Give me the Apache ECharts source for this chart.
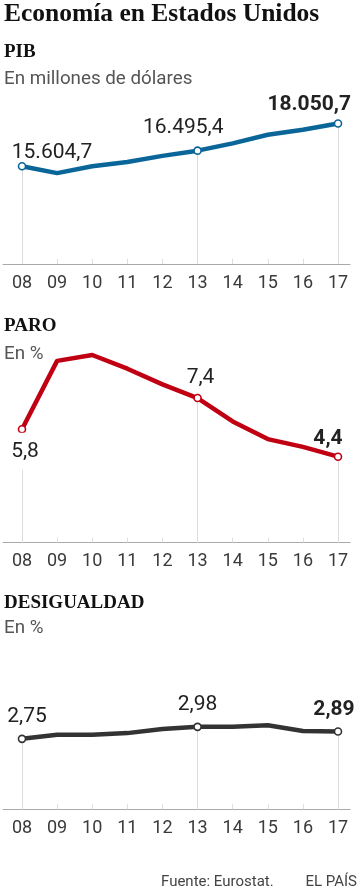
<!DOCTYPE html>
<html>
<head>
<meta charset="utf-8">
<script src="https://cdn.jsdelivr.net/npm/echarts@6/dist/echarts.min.js"></script>
<style>
html,body{margin:0;padding:0;background:#fff;}
#c{width:360px;height:893px;}
</style>
</head>
<body>
<div id="c"></div>
<script>
// ---- data ----
const years = ['08','09','10','11','12','13','14','15','16','17'];
const pib = [15604.7, 15208.8, 15598.8, 15840.7, 16197.0, 16495.4, 16912.0, 17403.8, 17688.9, 18050.7];
const paro = [5.8, 9.3, 9.6, 8.9, 8.1, 7.4, 6.2, 5.3, 4.9, 4.4];
const desig = [2.75, 2.83, 2.83, 2.86, 2.94, 2.98, 2.98, 3.01, 2.90, 2.89];
const labeledIdx = [0, 5, 9];

// ---- styling / layout ----
const panels = [
  {name:'PIB', sub:'En millones de dólares', data:pib, dec:1, color:'#0a6699', min:10000, max:20000,
   top:89.5, height:174.5, titleTop:43, subTop:69.5,
   offsets:{0:[30,-13],5:[-14.3,-23],9:[-28.8,-19]}, pad:{}},
  {name:'PARO', sub:'En %', data:paro, dec:1, color:'#c00012', min:0, max:10,
   top:347.2, height:195.5, titleTop:317, subTop:345,
   offsets:{0:[3,22],5:[3,-20],9:[-10,-18]}, pad:{0:[8,3,8,3]}},
  {name:'DESIGUALDAD', sub:'En %', data:desig, dec:2, color:'#333333', min:1.4, max:3.6,
   top:694.5, height:114.8, titleTop:594, subTop:619,
   offsets:{0:[5,-22.5],5:[0,-22],9:[-4,-21.5]}, pad:{}}
];

function fmt(v, dec){
  const s = v.toFixed(dec);
  let [ip, dp] = s.split('.');
  ip = ip.replace(/\B(?=(\d{3})+(?!\d))/g, '.');
  return dp ? ip + ',' + dp : ip;
}

const grid = [], xAxis = [], yAxis = [], series = [], title = [];
title.push({text:'Economía en Estados Unidos', left:4, top:1, padding:0,
  textStyle:{fontFamily:'Liberation Serif', fontWeight:'bold', fontSize:25.5, color:'#111'}});

panels.forEach((p, k) => {
  const g = grid.length;
  grid.push({left:22, right:22, top:p.top, height:p.height});
  grid.push({left:3, right:10, top:p.top, height:p.height});
  xAxis.push({type:'category', gridIndex:g, data:years, boundaryGap:false,
    axisLine:{show:false},
    axisTick:{show:true, inside:true, length:5, alignWithLabel:true, lineStyle:{color:'#dddddd', width:1}},
    axisLabel:{fontFamily:'Roboto', fontSize:18, color:'#3a3a3a', margin:10, interval:0},
    splitLine:{show:false}});
  xAxis.push({type:'value', gridIndex:g+1, min:0, max:1,
    axisLine:{show:true, lineStyle:{color:'#aaaaaa', width:1.2}},
    axisTick:{show:false}, axisLabel:{show:false}, splitLine:{show:false}});
  yAxis.push({type:'value', gridIndex:g, min:p.min, max:p.max, show:false, splitLine:{show:false}});
  yAxis.push({type:'value', gridIndex:g+1, min:0, max:1, show:false, splitLine:{show:false}});

  title.push({text:p.name, left:4, top:p.titleTop, padding:0,
    textStyle:{fontFamily:'Liberation Serif', fontWeight:'bold', fontSize:19, color:'#111'}});
  title.push({text:p.sub, left:4, top:p.subTop, padding:0,
    textStyle:{fontFamily:'Roboto', fontWeight:'normal', fontSize:18.8, color:'#555'}});

  const data = p.data.map((v, i) => {
    if (labeledIdx.indexOf(i) >= 0) {
      const last = i === p.data.length - 1;
      const lab = {show:true, position:'inside', offset:p.offsets[i],
        formatter: fmt(v, p.dec), fontFamily:'Roboto', fontSize:21,
        fontWeight: last ? 'bold' : 'normal', color:'#222'};
      if (p.pad[i]) { lab.backgroundColor = '#fff'; lab.padding = p.pad[i]; }
      return {value:v, symbol:'circle', symbolSize:7,
        itemStyle:{color:'#fff', borderColor:p.color, borderWidth:1.6}, label:lab};
    }
    return {value:v, symbol:'none'};
  });

  series.push({type:'line', xAxisIndex:g, yAxisIndex:g, data:data, z:3,
    showAllSymbol:true,
    lineStyle:{color:p.color, width:4.5, cap:'round', join:'round'},
    itemStyle:{color:'#fff', borderColor:p.color},
    emphasis:{disabled:true}, silent:true,
    markLine:{silent:true, symbol:'none', z:1, label:{show:false},
      lineStyle:{color:'#dddddd', width:1, type:'solid'},
      data: labeledIdx.map(i => [{coord:[years[i], p.data[i]]}, {coord:[years[i], p.min]}])}
  });
});

title.push({text:'Fuente: Eurostat.', left:161, top:874.5, padding:0,
  textStyle:{fontFamily:'Roboto', fontWeight:'normal', fontSize:15, color:'#444'}});
title.push({text:'EL PAÍS', right:3, top:874.5, padding:0,
  textStyle:{fontFamily:'Roboto', fontWeight:'normal', fontSize:15, color:'#444'}});

const chart = echarts.init(document.getElementById('c'), null, {renderer:'canvas'});
chart.setOption({animation:false, backgroundColor:'#fff', title, grid, xAxis, yAxis, series});
</script>
</body>
</html>
